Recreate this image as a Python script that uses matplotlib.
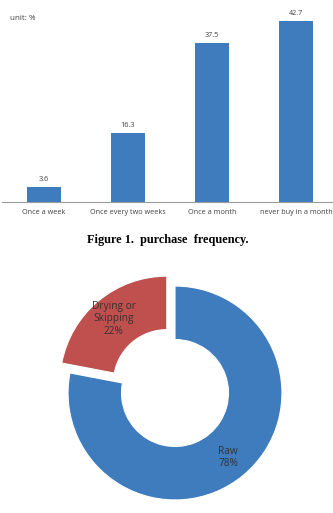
import matplotlib
matplotlib.use("Agg")
import matplotlib.pyplot as plt

# Figure 1 data: purchase frequency (unit: %)
categories = ["Once a week", "Once every two weeks", "Once a month", "never buy in a month"]
percent = [3.6, 16.3, 37.5, 42.7]

# Donut data
slice_labels = ["Raw\n78%", "Drying or\nSkipping\n22%"]
slice_values = [78, 22]

bar_color = "#3F7CBE"
red_color = "#C0504D"
text_color = "#404040"

fig = plt.figure(figsize=(3.33, 5.13), dpi=100)
W, H = 333, 513

# Bar chart
ax = fig.add_axes([2 / W, (H - 202) / H, 331 / W, 192 / H])
x = range(len(categories))
ax.bar(x, percent, width=0.4, color=bar_color)
for xi, v in zip(x, percent):
    ax.text(xi, v + 1.0, f"{v}", ha="center", va="bottom", fontsize=5.2,
            color=text_color, family="Open Sans")
ax.set_xlim(-0.5, 3.44)
ax.set_ylim(0, 45.3)
ax.set_xticks(list(x))
ax.set_xticklabels(categories, fontsize=5.2, color=text_color, family="Open Sans")
ax.tick_params(axis="x", length=0, pad=5)
ax.set_yticks([])
for s in ["top", "right", "left"]:
    ax.spines[s].set_visible(False)
ax.spines["bottom"].set_color("#9a9a9a")
ax.spines["bottom"].set_linewidth(0.8)

fig.text(10 / W, 1 - 18 / H, "unit: %", fontsize=5.8, color=text_color,
         family="Open Sans", va="center")
fig.text(168 / W, 1 - 240 / H, "Figure 1.  purchase  frequency.", fontsize=8.8,
         fontweight="bold", family="Liberation Serif", ha="center", va="center")

# Donut chart
side = 246
ax2 = fig.add_axes([(175 - side / 2) / W, (H - 393 - side / 2) / H, side / W, side / H])
ax2.pie(slice_values, labels=slice_labels, startangle=90, counterclock=False,
        colors=[bar_color, red_color], explode=[0, 0.12], labeldistance=0.78,
        wedgeprops=dict(width=0.5, edgecolor="white", linewidth=0.8),
        textprops=dict(fontsize=7.3, color="#333333", family="Open Sans",
                       ha="center", va="center", linespacing=1.15))
ax2.set_xlim(-1.15, 1.15)
ax2.set_ylim(-1.15, 1.15)
ax2.set_aspect("auto")
ax2.axis("off")

fig.savefig("out.png", dpi=100)
